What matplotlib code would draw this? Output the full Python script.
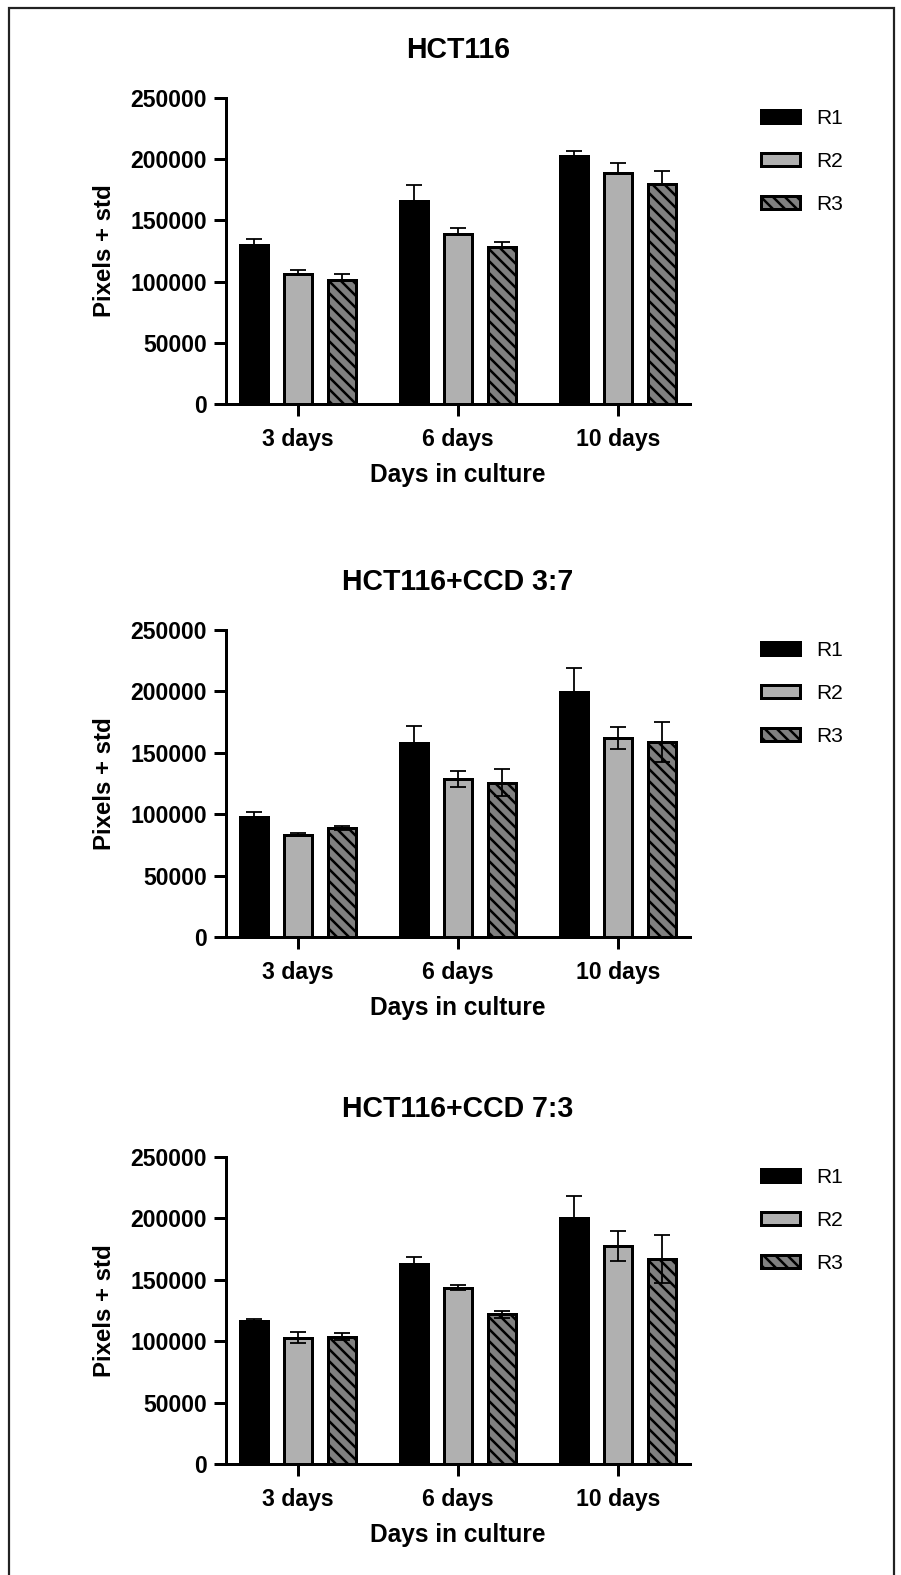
import numpy as np
import matplotlib
matplotlib.use("Agg")
import matplotlib.pyplot as plt
from matplotlib.patches import Rectangle

# data
categories = ['3 days', '6 days', '10 days']
series = ['R1', 'R2', 'R3']
titles = ['HCT116', 'HCT116+CCD 3:7', 'HCT116+CCD 7:3']

hct116_r1 = [129700, 165700, 203000]
hct116_r2 = [106000, 138600, 189000]
hct116_r3 = [101400, 128400, 179700]
hct116_r1_sd = [5000, 13500, 4000]
hct116_r2_sd = [3800, 4900, 7800]
hct116_r3_sd = [4600, 4000, 10500]

ccd37_r1 = [98100, 157800, 199700]
ccd37_r2 = [83200, 128900, 162100]
ccd37_r3 = [88600, 125700, 158900]
ccd37_r1_sd = [3300, 13800, 19500]
ccd37_r2_sd = [1100, 6500, 8800]
ccd37_r3_sd = [1700, 11000, 16300]

ccd73_r1 = [116600, 162700, 200200]
ccd73_r2 = [102900, 143600, 177500]
ccd73_r3 = [103700, 121800, 166800]
ccd73_r1_sd = [1700, 5700, 18000]
ccd73_r2_sd = [4300, 1900, 12500]
ccd73_r3_sd = [2700, 2700, 19500]

panels = [
    ([hct116_r1, hct116_r2, hct116_r3], [hct116_r1_sd, hct116_r2_sd, hct116_r3_sd], False),
    ([ccd37_r1, ccd37_r2, ccd37_r3], [ccd37_r1_sd, ccd37_r2_sd, ccd37_r3_sd], True),
    ([ccd73_r1, ccd73_r2, ccd73_r3], [ccd73_r1_sd, ccd73_r2_sd, ccd73_r3_sd], True),
]

yticks = [0, 50000, 100000, 150000, 200000, 250000]

plt.rcParams['font.family'] = ['Liberation Sans', 'DejaVu Sans']
plt.rcParams['hatch.linewidth'] = 2.5

W, H = 901, 1575
DPI = 72
fig = plt.figure(figsize=(W / DPI, H / DPI), dpi=DPI)

fills = ['black', '#b0b0b0', '#808080']
hatches = [None, None, '\\\\']
offsets = [-0.275, 0.0, 0.275]
bar_w = 0.17

# axes boxes in pixels: (top, bottom)
ax_left, ax_right = 226, 690
boxes = [(98, 404), (630, 937), (1157, 1464)]

x = np.arange(len(categories))

for (top, bot), title, (vals, sds, both) in zip(boxes, titles, panels):
    ax = fig.add_axes([ax_left / W, 1 - bot / H, (ax_right - ax_left) / W, (bot - top) / H])
    for i in range(3):
        ax.bar(x + offsets[i], vals[i], width=bar_w, color=fills[i], edgecolor='black',
               linewidth=3, hatch=hatches[i], label=series[i], zorder=2)
        lower = sds[i] if both else [0] * len(sds[i])
        ax.errorbar(x + offsets[i], vals[i], yerr=[lower, sds[i]], fmt='none',
                    ecolor='black', elinewidth=1.8, capsize=8, capthick=1.8, zorder=3)

    ax.set_xlim(-0.45, 2.45)
    ax.set_ylim(0, 250000)
    ax.set_yticks(yticks)
    ax.set_yticklabels([str(t) for t in yticks])
    ax.set_xticks(x)
    ax.set_xticklabels(categories)
    for s in ['top', 'right']:
        ax.spines[s].set_visible(False)
    for s in ['left', 'bottom']:
        ax.spines[s].set_linewidth(3)
    ax.tick_params(axis='both', length=12, width=3, labelsize=23, pad=7)
    ax.tick_params(axis='x', pad=12)
    for lab in ax.get_xticklabels() + ax.get_yticklabels():
        lab.set_fontweight('bold')
    ax.set_xlabel('Days in culture', fontsize=24.5, fontweight='bold', labelpad=12)
    ax.set_ylabel('Pixels + std', fontsize=24, fontweight='bold', labelpad=14)
    ax.set_title(title, fontsize=28.5, fontweight='bold', pad=40)

    ax.legend(loc='upper left', bbox_to_anchor=(1.152, 0.965), frameon=False,
              fontsize=21, handlelength=1.86, handleheight=0.62, handletextpad=0.8,
              labelspacing=1.15, borderpad=0, borderaxespad=0)

# outer frame round the whole figure
fig.add_artist(Rectangle((9 / W, -0.01), (894 - 9) / W, 1.01 - 8 / H,
                         transform=fig.transFigure, fill=False, lw=2.2, ec='#222222'))

fig.savefig('out.png', dpi=DPI, facecolor='white')
